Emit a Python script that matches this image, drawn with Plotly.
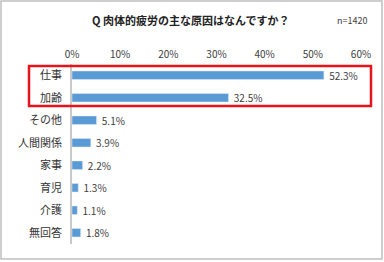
import plotly.graph_objects as go

categories = ["仕事", "加齢", "その他", "人間関係", "家事", "育児", "介護", "無回答"]
values = [52.3, 32.5, 5.1, 3.9, 2.2, 1.3, 1.1, 1.8]
tick_vals = [0, 10, 20, 30, 40, 50, 60]
tick_text = ["0%", "10%", "20%", "30%", "40%", "50%", "60%"]
title_text = "Q 肉体的疲労の主な原因はなんですか？"
n_text = "n=1420"

W, H = 384, 262
L, R, T, B = 72, 23, 64, 18
pw, ph = W - L - R, H - T - B

def px_x(p):
    return (p - L) / pw

def px_y(p):
    return (H - B - p) / ph

font = "Noto Sans CJK JP, Noto Sans, sans-serif"

fig = go.Figure(go.Bar(
    x=values, y=categories, orientation="h",
    marker=dict(color="#5B9BD5"),
    width=0.38,
    text=[f" {v:.1f}%" for v in values],
    textposition="outside",
    constraintext="none",
    textfont=dict(size=10, color="#404040", family=font),
    cliponaxis=False,
))

fig.update_layout(
    width=W, height=H,
    margin=dict(l=L, r=R, t=T, b=B),
    paper_bgcolor="white", plot_bgcolor="white",
    showlegend=False,
    font=dict(family=font, color="#404040"),
    xaxis=dict(side="top", range=[0, 60], tickvals=tick_vals, ticktext=tick_text,
               showgrid=False, zeroline=False, showline=False,
               tickfont=dict(size=10, color="#404040"), ticklabelstandoff=3, fixedrange=True),
    yaxis=dict(categoryorder="array", categoryarray=categories[::-1],
               showgrid=False, zeroline=False, showline=True, linecolor="#C8C8C8", linewidth=1.5,
               tickfont=dict(size=11, color="#333333"), ticklabelstandoff=6, fixedrange=True),
    shapes=[
        dict(type="rect", xref="paper", yref="paper",
             x0=px_x(1), x1=px_x(382), y0=px_y(259), y1=px_y(1),
             line=dict(color="#BFBFBF", width=1.5), fillcolor="rgba(0,0,0,0)", layer="below"),
        dict(type="rect", xref="paper", yref="paper",
             x0=px_x(29), x1=px_x(371), y0=px_y(106), y1=px_y(66),
             line=dict(color="#E8141B", width=2.5), fillcolor="rgba(0,0,0,0)"),
    ],
    annotations=[
        dict(text=f"<b>{title_text}</b>", xref="paper", yref="paper",
             x=px_x(190), y=px_y(20), xanchor="center", yanchor="middle",
             showarrow=False, font=dict(size=11, color="#222222")),
        dict(text=n_text, xref="paper", yref="paper",
             x=px_x(352), y=px_y(20), xanchor="center", yanchor="middle",
             showarrow=False, font=dict(size=9, color="#404040")),
    ],
)

fig.write_html("out.html")
